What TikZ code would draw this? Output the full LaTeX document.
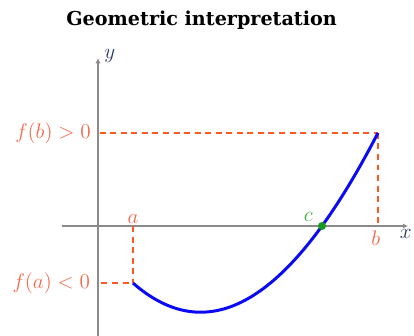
\documentclass[tikz,border=0pt]{standalone}
\usepackage{fontspec}
\newfontfamily\titlefont{DejaVu Serif}
\usetikzlibrary{arrows.meta}
\definecolor{axisgray}{HTML}{8A8A8A}
\definecolor{dashred}{HTML}{FF5722}
\definecolor{labelred}{HTML}{F5674A}
\definecolor{curveblue}{HTML}{0A0AF5}
\definecolor{rootgreen}{HTML}{159A1E}
\definecolor{textgreen}{HTML}{3FAE3A}
\definecolor{axisink}{HTML}{2B3A63}
\tikzset{
  axis/.style={line width=0.85pt,draw=axisgray,-{Latex[length=3pt,width=3pt]}},
  guide/.style={line width=0.85pt,draw=dashred,dash pattern=on 3.4pt off 2.6pt},
  curve/.style={line width=1.7pt,draw=curveblue},
  redlbl/.style={text=labelred,font=\fontsize{12}{14}\selectfont,inner sep=1pt},
  axislbl/.style={text=axisink,font=\fontsize{12}{14}\selectfont,inner sep=1pt},
  rootdot/.style={circle,fill=rootgreen,inner sep=0pt,minimum size=4.6pt}
}

\begin{document}
\begin{tikzpicture}[
        x=0.7cm,y=0.7cm,
        declare function={f(\t)=(\t-6.4)*(0.0807+0.2246*\t-0.00336*\t*\t);}
      ]
        \useasboundingbox (-2.8,-3.143) rectangle (9.029,6.457);
        \node[font=\titlefont\bfseries\fontsize{10.9}{12}\selectfont] (title) at (2.96,5.89) {Geometric interpretation};

        % axes
        \coordinate (xstart) at (-1.03,0);
        \coordinate (xend) at (8.86,0);
        \coordinate (ystart) at (0,-3.2);
        \coordinate (yend) at (0,4.8);
        \draw[axis] (xstart) -- (xend);
        \draw[axis] (ystart) -- (yend);
        \node[axislbl,anchor=south west] (ylbl) at (0.12,4.62) {$y$};
        \node[axislbl,anchor=north east] (xlbl) at (9.02,-0.05) {$x$};

        % end points of the interval
        \coordinate (pa) at (1,{f(1)});
        \coordinate (pb) at (8,{f(8)});
        \coordinate (axa) at (1,0);
        \coordinate (axb) at (8,0);
        \coordinate (ya) at (0.1,{f(1)});
        \coordinate (yb) at (0.05,{f(8)});
        \draw[guide] (axa) -- (pa);
        \draw[guide] (ya) -- (pa);
        \draw[guide] (yb) -- (pb);
        \draw[guide] (pb) -- (axb);

        \draw[curve] plot[domain=1:8,samples=80,smooth] (\x,{f(\x)});

        \node[redlbl,anchor=south] (albl) at (axa) {$a$};
        \node[redlbl,anchor=north] (blbl) at (7.94,-0.08) {$b$};
        \node[redlbl,anchor=east] (falbl) at (-0.17,{f(1)}) {$f(a)<0$};
        \node[redlbl,anchor=east] (fblbl) at (-0.15,{f(8)}) {$f(b)>0$};

        \node[rootdot] (c) at (6.4,0) {};
        \node[text=textgreen,font=\fontsize{12}{14}\selectfont,anchor=south east,inner sep=1pt] (clbl) at (6.2,0.08) {$c$};
      \end{tikzpicture}
\end{document}
